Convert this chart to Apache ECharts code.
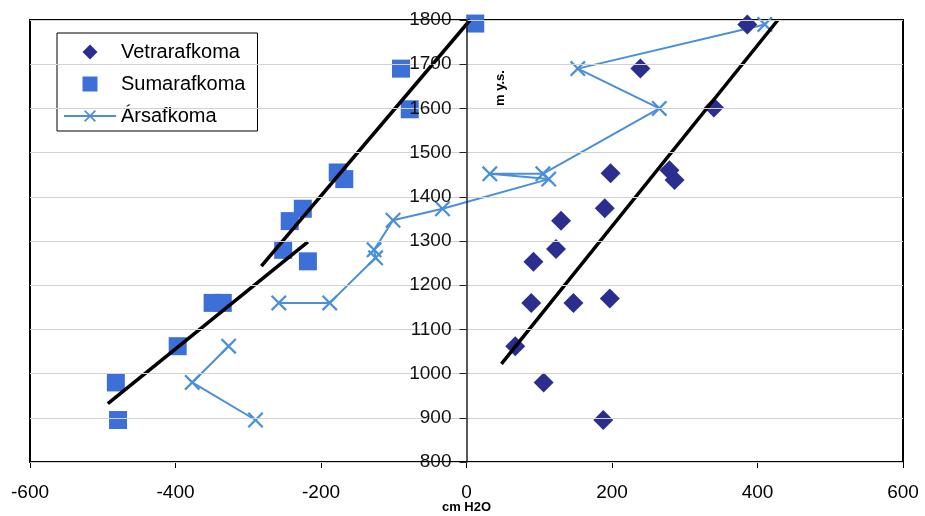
<!DOCTYPE html>
<html>
<head>
<meta charset="utf-8">
<script src="https://cdn.jsdelivr.net/npm/echarts@6/dist/echarts.min.js"></script>
<style>
html,body{margin:0;padding:0;background:#fff;}
#chart{width:925px;height:516px;}
</style>
</head>
<body>
<div id="chart"></div>
<script>
// Data (x = cm H2O, y = m y.s.)
var xTicks = [-600, -400, -200, 0, 200, 400, 600];
var yTicks = [800, 900, 1000, 1100, 1200, 1300, 1400, 1500, 1600, 1700, 1800];
var seriesNames = ['Vetrarafkoma', 'Sumarafkoma', 'Ársafkoma'];

var vetrarafkoma = [
  [386,1790],[239,1690],[340,1602],[198,1453],[279,1460],[286,1438],
  [190,1374],[130,1346],[123,1282],[92,1253],[89,1160],[147,1160],
  [197,1170],[67,1062],[106,980],[188,895]
];
var sumarafkoma = [
  [12,1792],[-90,1690],[-78,1598],[-177,1455],[-168,1440],[-225,1373],
  [-243,1345],[-252,1280],[-218,1254],[-349,1160],[-335,1160],[-397,1062],
  [-482,980],[-479,895]
];
var arsafkoma = [
  [-290,895],[-377,980],[-327,1062],['-','-'],[-258,1160],[-188,1160],
  [-125,1262],[-127,1280],[-101,1347],[-33,1373],[113,1440],[32,1452],
  [105,1452],[265,1600],[153,1690],[410,1790]
];
var trendSummerUpper = [[-282,1243],[5,1800]];
var trendSummerLower = [[-493,932],[-218,1298]];
var trendWinter = [[48,1022],[428,1800]];

var crossPath = 'path://M0,1L1,0L5,4L9,0L10,1L6,5L10,9L9,10L5,6L1,10L0,9L4,5Z';
var diamondPath = 'path://M5,0L10,5L5,10L0,5Z';
var squarePath = 'path://M0,0L10,0L10,10L0,10Z';
var FONT = 'Liberation Sans';

var GRID_LEFT = 30, GRID_RIGHT = 22;
var chartW = 925;
var plotW = chartW - GRID_LEFT - GRID_RIGHT;
// y axis sits at x = 0 on the value x axis
var yAxisOffset = -plotW * (0 - xTicks[0]) / (xTicks[xTicks.length-1] - xTicks[0]);
var zeroX = GRID_LEFT - yAxisOffset;

var chart = echarts.init(document.getElementById('chart'), null, {renderer:'canvas'});

function trend(data){
  return {
    type:'line', data:data, symbol:'none', silent:true, z:4,
    lineStyle:{color:'#000', width:3.5}, animation:false
  };
}

chart.setOption({
  animation:false,
  backgroundColor:'#fff',
  textStyle:{fontFamily:FONT},
  grid:{left:GRID_LEFT, right:GRID_RIGHT, top:20, bottom:54, containLabel:false, outerBoundsMode:'none',
        show:true, borderColor:'#000', borderWidth:2, backgroundColor:'transparent'},
  legend:{
    data:seriesNames,
    orient:'vertical',
    left:57, top:33,
    padding:[9,12,5,6],
    itemWidth:52, itemHeight:15, itemGap:12,
    symbolKeepAspect:true,
    backgroundColor:'#fff',
    borderColor:'#000', borderWidth:1,
    textStyle:{fontSize:20, color:'#000', fontFamily:FONT}
  },
  xAxis:{
    type:'value', min:xTicks[0], max:xTicks[xTicks.length-1], interval:200,
    axisLine:{onZero:false, lineStyle:{color:'#000', width:2}},
    axisTick:{show:true, length:6, lineStyle:{color:'#000', width:1}},
    axisLabel:{fontSize:19, color:'#000', margin:21, fontFamily:FONT, formatter:function(v){return String(v);}},
    splitLine:{show:false}
  },
  yAxis:{
    type:'value', min:yTicks[0], max:yTicks[yTicks.length-1], interval:100,
    position:'left', offset:yAxisOffset,
    z:5,
    axisLine:{show:true, onZero:false, lineStyle:{color:'#222', width:1.5}},
    axisTick:{show:true, length:7, lineStyle:{color:'#222', width:1}},
    axisLabel:{fontSize:19, color:'#111', margin:15, fontFamily:FONT, showMinLabel:true, showMaxLabel:true,
               formatter:function(v){return String(v);}},
    splitLine:{show:true, lineStyle:{color:'#d2d2d2', width:1}}
  },
  graphic:[{
    type:'text', x:500, y:88, rotation:Math.PI/2,
    style:{text:'m y.s.', font:'bold 13px "Liberation Sans"', fill:'#000', textAlign:'center', textVerticalAlign:'middle'}
  },{
    type:'text', x:zeroX, y:507,
    style:{text:'cm H2O', font:'bold 13px "Liberation Sans"', fill:'#000', textAlign:'center', textVerticalAlign:'middle'}
  }],
  series:[
    {
      name:seriesNames[0], type:'scatter', data:vetrarafkoma, symbol:diamondPath, symbolSize:20, z:3,
      symbolKeepAspect:true,
      itemStyle:{color:'#2b2e8e', opacity:1}
    },
    {
      name:seriesNames[1], type:'scatter', data:sumarafkoma, symbol:squarePath, symbolSize:18, z:3,
      symbolKeepAspect:true,
      itemStyle:{color:'#3d6fd9', opacity:1}
    },
    {
      name:seriesNames[2], type:'line', data:arsafkoma, symbol:crossPath, symbolSize:16, showAllSymbol:true, z:3,
      connectNulls:false,
      lineStyle:{color:'#4a8fd8', width:2},
      itemStyle:{color:'#4a8fd8'}
    },
    trend(trendSummerUpper),
    trend(trendSummerLower),
    trend(trendWinter)
  ]
});
</script>
</body>
</html>
